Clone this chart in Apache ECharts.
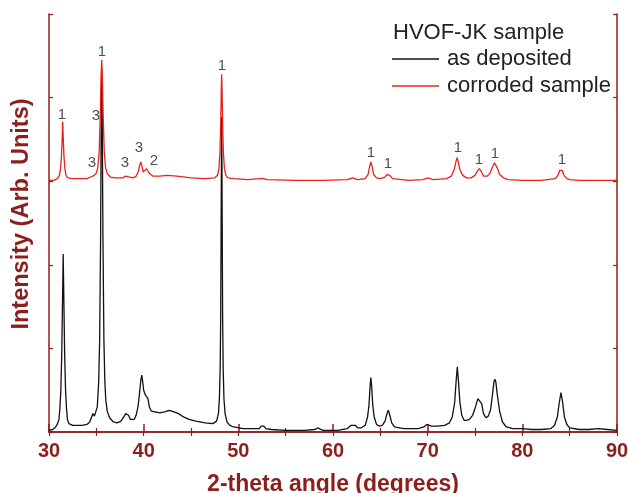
<!DOCTYPE html>
<html>
<head>
    <meta charset="utf-8">
    <title>HVOF-JK XRD</title>
    <script src="https://cdn.jsdelivr.net/npm/echarts@6/dist/echarts.min.js"></script>
</head>
<body style="margin:0">
    <div id="main" style="width: 628px;height:493px;"></div>
    <script type="text/javascript">
        // 2-theta (deg) / intensity (arb.)
        var depositedTheta = [
            30.0, 30.4, 30.7, 30.9, 31.05, 31.15, 31.25, 31.35, 31.42, 31.5, 31.58, 31.65, 31.75, 31.85, 31.95, 32.1, 32.5,
            33.0, 33.5, 34.0, 34.3, 34.5, 34.65, 34.8, 34.95, 35.1, 35.25, 35.35, 35.45, 35.52, 35.57, 35.62, 35.7, 35.8, 35.9, 36.0, 36.15, 36.4, 36.8,
            37.2, 37.6, 37.9, 38.1, 38.25, 38.4, 38.6, 38.8, 39.0, 39.2, 39.4, 39.55, 39.7, 39.8, 39.9, 40.0, 40.15, 40.3, 40.45, 40.6, 40.8, 41.0,
            41.7, 42.2, 42.7, 43.2, 43.7, 44.2, 44.8, 45.5, 46.5, 47.3, 47.7, 47.9, 48.0, 48.08, 48.14, 48.2, 48.24, 48.28, 48.34, 48.4, 48.48, 48.6, 48.8, 49.1, 49.5,
            50.5, 51.5, 52.2, 52.4, 52.55, 52.7, 52.9, 53.5, 55.0, 57.0, 58.1, 58.4, 58.7, 59.0, 60.5, 61.5, 61.9, 62.1, 62.35, 62.6, 63.0,
            63.4, 63.65, 63.8, 63.92, 64.0, 64.08, 64.2, 64.35, 64.6, 64.9, 65.2, 65.5, 65.7, 65.85, 66.0, 66.2, 66.5, 67.0, 67.5,
            69.0, 69.6, 69.9, 70.1, 70.4, 71.0, 71.8, 72.3, 72.6, 72.85, 73.0, 73.13, 73.26, 73.4, 73.6, 73.85, 74.1, 74.4,
            74.75, 75.05, 75.3, 75.5, 75.7, 75.9, 76.15, 76.4, 76.65, 76.85, 77.0, 77.1, 77.2, 77.35, 77.6, 77.9, 78.3,
            79.0, 80.0, 81.0, 82.0, 83.0, 83.4, 83.7, 83.9, 84.08, 84.25, 84.45, 84.7, 85.0, 86.0, 87.0, 88.0, 89.0, 90.0];
        var depositedCounts = [
            2, 3, 6, 10, 15, 28, 50, 95, 150, 213, 150, 95, 50, 28, 15, 10, 8,
            8, 8, 9, 12, 18, 22, 19, 21, 30, 60, 110, 230, 380, 433, 380, 230, 110, 60, 38, 25, 17, 12,
            11, 13, 18, 22, 23, 20, 15, 13, 15, 20, 30, 45, 62, 68, 60, 50, 45, 46, 40, 30, 25, 23,
            23, 24, 26, 24, 22, 18, 15, 13, 11, 10, 13, 22, 40, 75, 140, 290, 377, 290, 140, 75, 40, 22, 12, 8, 6,
            4, 4, 4, 7, 9, 7, 4, 3, 2, 2, 3, 5, 3, 2, 2, 4, 8, 10, 8, 5, 5,
            8, 18, 32, 55, 65, 55, 32, 18, 9, 7, 8, 13, 22, 26, 20, 11, 6, 5, 4,
            4, 6, 9, 10, 7, 7, 8, 11, 18, 35, 60, 78, 60, 36, 20, 14, 14, 15,
            20, 30, 40, 42, 34, 22, 17, 19, 27, 45, 60, 63, 60, 45, 25, 12, 6,
            4, 4, 3, 3, 4, 8, 18, 35, 47, 36, 18, 9, 5, 3, 3, 4, 3, 2];

        var corrodedTheta = [
            30.0, 30.5, 30.9, 31.1, 31.22, 31.32, 31.39, 31.45, 31.51, 31.58, 31.68, 31.8, 32.0, 32.5, 33.0, 34.0,
            34.4, 34.6, 34.8, 35.0, 35.15, 35.3, 35.42, 35.5, 35.57, 35.64, 35.72, 35.84, 35.98, 36.15, 36.5, 37.0,
            37.8, 38.1, 38.25, 38.5, 38.9, 39.2, 39.45, 39.6, 39.7, 39.82, 39.95, 40.1, 40.3, 40.5, 40.75, 41.0, 41.7, 42.5, 43.5, 45.0, 46.5,
            47.5, 47.8, 47.95, 48.06, 48.14, 48.2, 48.24, 48.28, 48.34, 48.42, 48.53, 48.68, 48.9, 49.5, 51.0, 52.3, 52.5, 52.7, 53.0, 56.0, 59.0, 61.5, 62.1, 62.6,
            63.4, 63.7, 63.88, 64.0, 64.12, 64.3, 64.6, 65.0, 65.5, 65.7, 65.84, 66.0, 66.3, 68.0, 69.5, 70.0, 70.6, 72.0,
            72.5, 72.8, 73.0, 73.1, 73.22, 73.4, 73.7, 74.1, 74.6, 75.0, 75.25, 75.45, 75.65, 75.9, 76.3, 76.6, 76.85, 77.05, 77.15, 77.35, 77.6, 78.0, 78.5,
            80.0, 82.0, 83.5, 83.8, 83.95, 84.08, 84.2, 84.4, 84.7, 85.0, 86.0, 88.0, 90.0];
        var corrodedCounts = [
            301, 301, 303, 307, 315, 330, 350, 371, 350, 330, 315, 307, 304, 303, 303, 303,
            305, 307, 307, 310, 316, 335, 380, 425, 445, 425, 380, 335, 316, 309, 305, 304,
            304, 306, 307, 305, 304, 306, 312, 320, 323, 318, 311, 311, 315, 311, 308, 306, 306, 307, 306, 304, 303,
            304, 307, 315, 335, 370, 410, 428, 410, 370, 335, 315, 307, 304, 303, 302, 303, 305, 303, 302, 301, 301, 302, 304, 302,
            303, 308, 318, 323, 318, 308, 304, 303, 305, 308, 309, 307, 303, 301, 302, 304, 302, 303,
            306, 314, 324, 328, 324, 314, 307, 304, 304, 307, 312, 315, 312, 306, 306, 310, 317, 322, 322, 316, 308, 304, 302,
            301, 301, 303, 308, 313, 315, 313, 307, 303, 302, 301, 301, 301];

        // phase marks above the peaks
        var markTheta = [31.37, 34.54, 34.96, 35.6, 38.03, 39.51, 41.09, 48.27, 64.01, 65.81, 73.2, 75.42, 77.11, 84.19];
        var markCounts = [379, 322, 378, 455, 322, 340, 324, 438, 334, 321, 340, 325, 333, 325];
        var markText = ['1', '3', '3', '1', '3', '3', '2', '1', '1', '1', '1', '1', '1', '1'];

        var axisRed = '#8b1f1c';

        function pairs(xs, ys) {
            var out = [];
            for (var i = 0; i < xs.length; i++) out.push([xs[i], ys[i]]);
            return out;
        }
        var marks = [];
        for (var i = 0; i < markTheta.length; i++) {
            marks.push([markTheta[i], markCounts[i], markText[i]]);
        }

        var myChart = echarts.init(document.getElementById('main'));
        var option = {
            animation: false,
            backgroundColor: '#fff',
            grid: { left: 49, right: 11, top: 14, bottom: 61, outerBoundsMode: 'none', containLabel: false },
            title: {
                text: 'HVOF-JK sample',
                left: 393, top: 22, padding: 0,
                textStyle: { fontFamily: 'Liberation Sans', fontSize: 22, fontWeight: 'normal', color: '#222' }
            },
            legend: {
                data: ['as deposited', 'corroded sample'],
                orient: 'vertical',
                left: 392, top: 48, padding: 0,
                icon: 'rect',
                itemWidth: 47, itemHeight: 1.3, itemGap: 5,
                textStyle: { fontFamily: 'Liberation Sans', fontSize: 22, color: '#222', padding: [0, 0, 0, 3] }
            },
            xAxis: [{
                type: 'value', min: 30, max: 90, interval: 10,
                axisLine: { lineStyle: { color: axisRed, width: 1.5 } },
                axisTick: { inside: true, length: 8, lineStyle: { color: axisRed, width: 1.5 } },
                minorTick: { show: true, splitNumber: 2, length: 4, lineStyle: { color: axisRed, width: 1.2 } },
                axisLabel: { color: axisRed, fontFamily: 'Liberation Sans', fontWeight: 'bold', fontSize: 20, margin: 9 },
                splitLine: { show: false },
                name: '2-theta angle (degrees)', nameLocation: 'middle', nameGap: 41,
                nameTextStyle: { color: axisRed, fontFamily: 'Liberation Sans', fontWeight: 'bold', fontSize: 23 }
            }, {
                type: 'value', min: 30, max: 90, interval: 10, position: 'top',
                axisLine: { lineStyle: { color: axisRed, width: 1.5 } },
                axisTick: { inside: true, length: 4, lineStyle: { color: axisRed, width: 1.2 } },
                minorTick: { show: true, splitNumber: 2, length: 4, lineStyle: { color: axisRed, width: 1.2 } },
                axisLabel: { show: false },
                splitLine: { show: false }
            }],
            yAxis: [{
                type: 'value', min: 0, max: 500, interval: 100,
                axisLine: { show: true, lineStyle: { color: axisRed, width: 1.5 } },
                axisTick: { show: true, inside: true, length: 4, lineStyle: { color: axisRed, width: 1.2 } },
                axisLabel: { show: false },
                splitLine: { show: false }
            }, {
                type: 'value', min: 0, max: 500, interval: 100, position: 'right',
                axisLine: { show: true, lineStyle: { color: axisRed, width: 1.5 } },
                axisTick: { show: true, inside: true, length: 4, lineStyle: { color: axisRed, width: 1.2 } },
                axisLabel: { show: false },
                splitLine: { show: false }
            }],
            graphic: [{
                type: 'text', x: 22, y: 214, rotation: Math.PI / 2,
                style: {
                    text: 'Intensity (Arb. Units)', fill: axisRed,
                    font: 'bold 23.5px "Liberation Sans"',
                    textAlign: 'center', textVerticalAlign: 'middle'
                }
            }],
            series: [{
                name: 'as deposited', type: 'line',
                data: pairs(depositedTheta, depositedCounts),
                showSymbol: false, symbol: 'none',
                lineStyle: { color: '#111', width: 1.3 },
                itemStyle: { color: '#111' }
            }, {
                name: 'corroded sample', type: 'line',
                data: pairs(corrodedTheta, corrodedCounts),
                showSymbol: false, symbol: 'none',
                lineStyle: { color: '#e8231c', width: 1.3 },
                itemStyle: { color: '#e8231c' }
            }, {
                name: 'marks', type: 'scatter', silent: true,
                data: marks, symbolSize: 0,
                label: {
                    show: true, position: 'inside',
                    formatter: function (p) { return p.data[2]; },
                    fontFamily: 'Liberation Sans', fontSize: 15, color: '#222'
                }
            }]
        };
        myChart.setOption(option);
    </script>
</body>
</html>
